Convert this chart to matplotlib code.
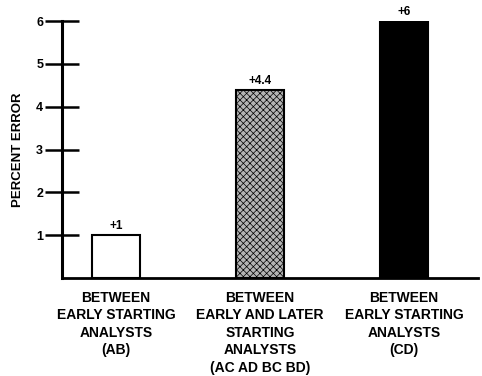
import matplotlib
matplotlib.use("Agg")
import matplotlib.pyplot as plt

# values
categories = [
    "BETWEEN\nEARLY STARTING\nANALYSTS\n(AB)",
    "BETWEEN\nEARLY AND LATER\nSTARTING\nANALYSTS\n(AC AD BC BD)",
    "BETWEEN\nEARLY STARTING\nANALYSTS\n(CD)",
]
errors = [1.0, 4.4, 6.0]
value_labels = ["+1", "+4.4", "+6"]
y_ticks = [1, 2, 3, 4, 5, 6]

plt.rcParams['font.family'] = ['Liberation Sans', 'DejaVu Sans']
plt.rcParams['font.weight'] = 'bold'
plt.rcParams['hatch.linewidth'] = 0.5

fig = plt.figure(figsize=(4.82, 3.76), dpi=100)
ax = fig.add_axes([62 / 482, 1 - 278 / 376, (478 - 62) / 482, (278 - 21) / 376])

x = list(range(len(categories)))
faces = ["white", "#b4b4b4", "black"]
hatches = [None, "xxxxx", None]
for xi, val, fc, h in zip(x, errors, faces, hatches):
    ax.bar(xi, val, width=0.333, facecolor=fc, edgecolor="black",
           linewidth=1.5, hatch=h, zorder=2)

for xi, val, lab in zip(x, errors, value_labels):
    ax.text(xi, val + 0.07, lab, ha="center", va="bottom",
            fontsize=8.5, fontweight="bold")

ax.set_xlim(-0.375, 2.514)
ax.set_ylim(0, 6)
ax.set_yticks(y_ticks)
ax.set_yticklabels([str(t) for t in y_ticks], fontsize=9, fontweight="bold")
ax.set_xticks(x)
ax.set_xticklabels(categories, fontsize=10, fontweight="bold", linespacing=1.32)

ax.tick_params(axis="y", direction="inout", length=24, width=1.8, pad=1.5)
ax.tick_params(axis="x", length=0, pad=9)

for side in ["top", "right"]:
    ax.spines[side].set_visible(False)
ax.spines["left"].set_linewidth(2.2)
ax.spines["bottom"].set_linewidth(2.0)

ax.set_ylabel("PERCENT ERROR", fontsize=9.5, fontweight="bold", labelpad=9)

fig.savefig("out.png", dpi=100)
